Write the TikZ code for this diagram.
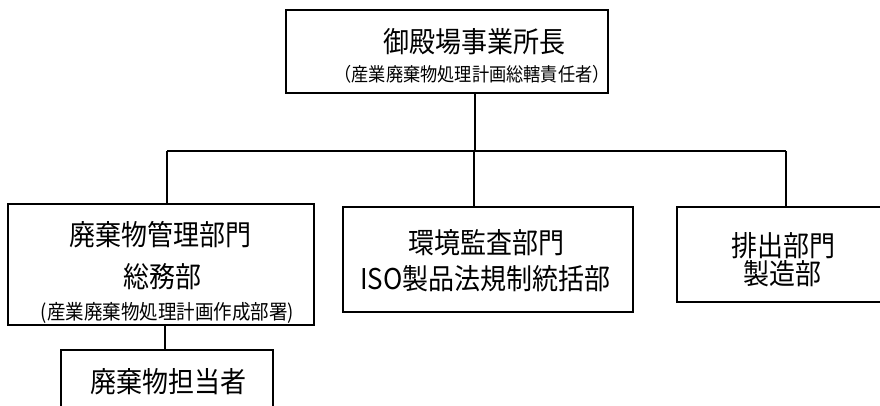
\documentclass[tikz,border=0pt]{standalone}
\usepackage{fontspec}
\setmainfont{Noto Sans CJK JP}
\usetikzlibrary{calc}
\newcommand{\tallt}[1]{\scalebox{1}[1.1]{#1}}
\tikzset{
  boxnode/.style={draw=black, line width=1.6pt, inner sep=0pt, fill=white},
  conn/.style={draw=black, line width=1.2pt},
  bigtx/.style={inner sep=0pt, anchor=base, font=\fontsize{26}{26}\selectfont},
  smalltx/.style={inner sep=0pt, anchor=base, font=\fontsize{17.2}{17.2}\selectfont},
  paretx/.style={inner sep=0pt, anchor=base, font=\fontsize{18.5}{18.5}\selectfont}
}
\begin{document}
\begin{tikzpicture}[x=1pt,y=-1pt]
\useasboundingbox (0,0) rectangle (880,405);
\clip (0,0) rectangle (880,405);
\fill[white] (0,0) rectangle (880,405);
% boxes
\node[boxnode, minimum width=322pt, minimum height=83pt] (top) at (447,51.5) {};
\node[boxnode, minimum width=306pt, minimum height=121pt] (left) at (161,264.5) {};
\node[boxnode, minimum width=290pt, minimum height=105pt] (mid) at (488,259.5) {};
\node[boxnode, minimum width=223pt, minimum height=95pt] (right) at (788.5,254.5) {};
\node[boxnode, minimum width=212pt, minimum height=70pt] (bot) at (167,385) {};
% texts
\node[bigtx] (toptx1) at (474.5,52.5) {\tallt{御殿場事業所長}};
\node[smalltx] (toptx2) at (472,81.6) {\tallt{（産業廃棄物処理計画総轄責任者）}};
\node[bigtx] (lefttx1) at (160,245) {\tallt{廃棄物管理部門}};
\node[bigtx] (lefttx2) at (162,287) {\tallt{総務部}};
\node[paretx] (lefttx3) at (167.5,319) {\tallt{(産業廃棄物処理計画作成部署)}};
\node[bigtx] (midtx1) at (486,253) {\tallt{環境監査部門}};
\node[bigtx] (midtx2) at (485.5,289) {\tallt{ISO製品法規制統括部}};
\node[bigtx] (righttx1) at (783.5,256) {\tallt{排出部門}};
\node[bigtx] (righttx2) at (782.5,284) {\tallt{製造部}};
\node[bigtx] (bottx) at (168,392.5) {\tallt{廃棄物担当者}};
% connectors
\coordinate (j0) at (475,151);
\coordinate (jl) at (167,151);
\coordinate (jm) at (474,151);
\coordinate (jr) at (786,151);
\coordinate (jb) at (165,330);
\draw[conn] (j0 |- top.south) -- (j0);
\draw[conn] (jl) -- (jr);
\draw[conn] (jl) -- (jl |- left.north);
\draw[conn] (jm) -- (jm |- mid.north);
\draw[conn] (jr) -- (jr |- right.north);
\draw[conn] (jb |- left.south) -- (jb |- bot.north);
\end{tikzpicture}
\end{document}
